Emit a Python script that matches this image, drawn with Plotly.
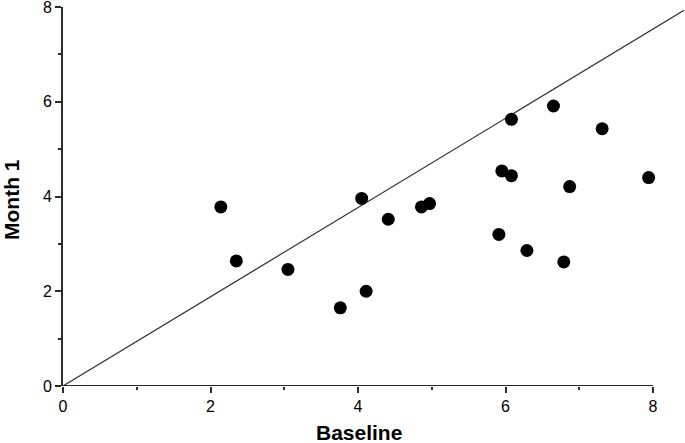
import plotly.graph_objects as go

# values
baseline = [2.14, 2.35, 3.05, 3.76, 4.11, 4.05, 4.41, 4.86, 4.97, 6.08,
            6.65, 7.31, 5.95, 6.08, 6.87, 7.94, 5.91, 6.29, 6.79]
month1 = [3.78, 2.64, 2.46, 1.65, 2.00, 3.96, 3.52, 3.78, 3.85, 5.63,
          5.91, 5.43, 4.54, 4.44, 4.21, 4.40, 3.20, 2.86, 2.62]
ref_x = [0, 8.42]
ref_y = [0, 7.93]
tick_vals = [0, 2, 4, 6, 8]

AX = '#2b2b2b'
FONT = 'Liberation Sans, Arial, sans-serif'

fig = go.Figure()
fig.add_trace(go.Scatter(x=ref_x, y=ref_y, mode='lines',
                         line=dict(color='#333333', width=1.2),
                         showlegend=False, cliponaxis=False))
fig.add_trace(go.Scatter(x=baseline, y=month1, mode='markers',
                         marker=dict(color='black', size=13, symbol='circle'),
                         showlegend=False))

# bottom axis line only as far as 8
fig.add_shape(type='line', xref='x', yref='y', x0=0, x1=8, y0=0, y1=0,
              line=dict(color=AX, width=2))

fig.update_xaxes(range=[0, 8.42], tickvals=tick_vals, ticks='outside', ticklen=6,
                 tickwidth=2, tickcolor=AX, showline=False, showgrid=False, zeroline=False,
                 automargin=False, ticklabeloverflow='allow',
                 minor=dict(tickvals=[1, 3, 5, 7], ticks='outside', ticklen=3, tickwidth=2, tickcolor=AX),
                 tickfont=dict(family=FONT, size=16, color='black'))
fig.update_yaxes(range=[0, 8], tickvals=tick_vals, ticks='outside', ticklen=6,
                 tickwidth=2, tickcolor=AX, showline=True, linecolor=AX, linewidth=2,
                 showgrid=False, zeroline=False, automargin=False, ticklabeloverflow='allow',
                 minor=dict(tickvals=[1, 3, 5, 7], ticks='outside', ticklen=3, tickwidth=2, tickcolor=AX),
                 tickfont=dict(family=FONT, size=16, color='black'))

fig.add_annotation(text='<b>Baseline</b>', xref='paper', yref='paper', x=0.477, y=-0.122,
                   xanchor='center', yanchor='middle', showarrow=False,
                   font=dict(family=FONT, size=21, color='black'))
fig.add_annotation(text='<b>Month 1</b>', xref='paper', yref='paper', x=-0.084, y=0.493,
                   xanchor='center', yanchor='middle', showarrow=False, textangle=-90,
                   font=dict(family=FONT, size=21, color='black'))

fig.update_layout(width=685, height=443, margin=dict(l=63, r=1, t=7, b=57),
                  plot_bgcolor='white', paper_bgcolor='white')

fig.write_html("out.html", config=dict(displayModeBar=False),
               post_script="document.body.style.margin='0';")
